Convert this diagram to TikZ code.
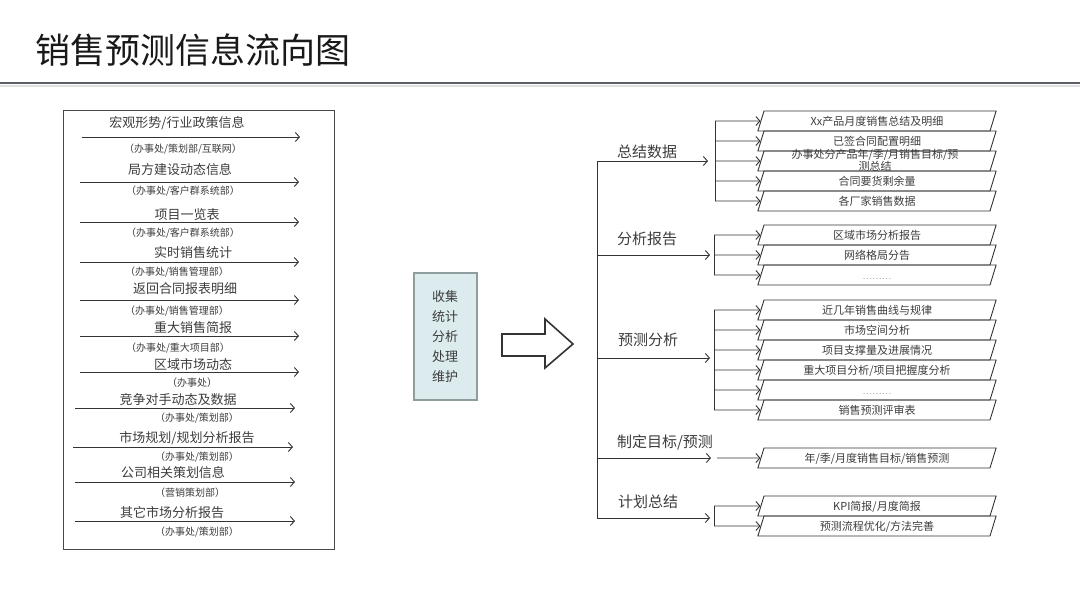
\documentclass[tikz,border=0pt]{standalone}
\usepackage{fontspec}
\setmainfont{Noto Sans CJK SC}
\usetikzlibrary{arrows.meta,shapes.geometric}
\definecolor{txtgray}{HTML}{3C3C3C}
\definecolor{linegray}{HTML}{333333}
\definecolor{rulegray}{HTML}{5A5E66}
\definecolor{hubfill}{HTML}{DCECEE}
\definecolor{hubline}{HTML}{8E9E9E}
\begin{document}
\begin{tikzpicture}[x=1pt, y=-1pt,
    lab/.style={font=\fontsize{13}{15}\selectfont, text=txtgray, inner sep=0pt},
    sublab/.style={font=\fontsize{10}{12}\selectfont, text=txtgray, inner sep=0pt},
    grp/.style={font=\fontsize{15}{18}\selectfont, text=txtgray, inner sep=0pt},
    arr/.style={draw=linegray, line width=0.9pt, -{Straight Barb[length=4pt,width=9pt]}},
    bar/.style={draw=linegray, line width=1pt},
    para/.style={trapezium, trapezium left angle=73, trapezium right angle=107,
      text width=220pt, align=center, text height=9.2pt, text depth=0.8pt,
      inner xsep=3pt, inner ysep=5pt,
      draw=linegray, line width=0.9pt,
      font=\fontsize{11}{12}\selectfont, text=txtgray},
    dots/.style={font=\fontsize{9}{9}\selectfont, text=gray!70}]
    \useasboundingbox (0,0) rectangle (1080,608);

    % Titel
    \node[anchor=west, inner sep=0pt, font=\fontsize{35}{40}\selectfont, text=black!90] (title) at (35,50) {销售预测信息流向图};
    \draw[rulegray, line width=2.5pt] (0,83) -- (1080,83);
    \draw[gray!25, line width=1.5pt] (0,86) -- (1080,86);

    % Informationsquellen
    \draw[linegray!90, line width=1pt] (63,110) rectangle (334,549);
    \node[lab] (q1) at (177,123) {宏观形势/行业政策信息};
    \coordinate (q1s) at (82,137); \coordinate (q1e) at (300,137);
    \node[sublab] (u1) at (183,149) {（办事处/策划部/互联网）};
    \node[lab] (q2) at (180,170) {局方建设动态信息};
    \coordinate (q2s) at (80,182); \coordinate (q2e) at (299,182);
    \node[sublab] (u2) at (183,191) {（办事处/客户群系统部）};
    \node[lab] (q3) at (187,215) {项目一览表};
    \coordinate (q3s) at (80,222); \coordinate (q3e) at (299,222);
    \node[sublab] (u3) at (183,233) {（办事处/客户群系统部）};
    \node[lab] (q4) at (193,253) {实时销售统计};
    \coordinate (q4s) at (80,262); \coordinate (q4e) at (299,262);
    \node[sublab] (u4) at (177,272) {（办事处/销售管理部）};
    \node[lab] (q5) at (185,289) {返回合同报表明细};
    \coordinate (q5s) at (80,300); \coordinate (q5e) at (299,300);
    \node[sublab] (u5) at (177,311) {（办事处/销售管理部）};
    \node[lab] (q6) at (193,328) {重大销售简报};
    \coordinate (q6s) at (80,336); \coordinate (q6e) at (299,336);
    \node[sublab] (u6) at (178,348) {（办事处/重大项目部）};
    \node[lab] (q7) at (193,364) {区域市场动态};
    \coordinate (q7s) at (80,372); \coordinate (q7e) at (299,372);
    \node[sublab] (u7) at (192,383) {（办事处）};
    \node[lab] (q8) at (178,400) {竞争对手动态及数据};
    \coordinate (q8s) at (75,408); \coordinate (q8e) at (295,408);
    \node[sublab] (u8) at (197,418) {（办事处/策划部）};
    \node[lab] (q9) at (187,438) {市场规划/规划分析报告};
    \coordinate (q9s) at (73,447); \coordinate (q9e) at (293,447);
    \node[sublab] (u9) at (197,457) {（办事处/策划部）};
    \node[lab] (q10) at (173,473) {公司相关策划信息};
    \coordinate (q10s) at (75,482); \coordinate (q10e) at (295,482);
    \node[sublab] (u10) at (190,493) {（营销策划部）};
    \node[lab] (q11) at (172,513) {其它市场分析报告};
    \coordinate (q11s) at (75,521); \coordinate (q11e) at (295,521);
    \node[sublab] (u11) at (197,532) {（办事处/策划部）};
    \draw[arr] (q1s) -- (q1e);
    \draw[arr] (q2s) -- (q2e);
    \draw[arr] (q3s) -- (q3e);
    \draw[arr] (q4s) -- (q4e);
    \draw[arr] (q5s) -- (q5e);
    \draw[arr] (q6s) -- (q6e);
    \draw[arr] (q7s) -- (q7e);
    \draw[arr] (q8s) -- (q8e);
    \draw[arr] (q9s) -- (q9e);
    \draw[arr] (q10s) -- (q10e);
    \draw[arr] (q11s) -- (q11e);

    % Verarbeitung
    \node[draw=hubline, fill=hubfill, line width=2pt, minimum width=63pt, minimum height=127pt,
      align=center, font=\fontsize{13}{20}\selectfont, text=txtgray] (hub) at (445,336.5)
      {收集\\统计\\分析\\处理\\维护};
    \draw[linegray, line width=1.6pt, fill=white] (502,334) -- (545,334) -- (545,319) -- (573,344)
      -- (545,368) -- (545,356) -- (502,356) -- cycle;

    % Ausgaben
    \node[grp] (zj) at (647,152) {总结数据};
    \node[grp] (fx) at (647,239) {分析报告};
    \node[grp] (yc) at (648,340) {预测分析};
    \node[grp] (zd) at (665,442) {制定目标/预测};
    \node[grp] (jh) at (648,502) {计划总结};

    \node[para] (zj1) at (877,121) {Xx产品月度销售总结及明细};
    \node[para] (zj2) at (877,141) {已签合同配置明细};
    \node[para] (zj3) at (877,161) {};
    \node[align=center, inner sep=0pt, font=\fontsize{11}{11}\selectfont, text=txtgray] (zj3t) at (875,160)
      {办事处分产品年/季/月销售目标/预\\测总结};
    \node[para] (zj4) at (877,181) {合同要货剩余量};
    \node[para] (zj5) at (877,201) {各厂家销售数据};
    \node[para] (fx1) at (877,235) {区域市场分析报告};
    \node[para] (fx2) at (877,255) {网络格局分告};
    \node[para, dots] (fx3) at (877,275) {………};
    \node[para] (yc1) at (877,310) {近几年销售曲线与规律};
    \node[para] (yc2) at (877,330) {市场空间分析};
    \node[para] (yc3) at (877,350) {项目支撑量及进展情况};
    \node[para] (yc4) at (877,370) {重大项目分析/项目把握度分析};
    \node[para, dots] (yc5) at (877,390) {………};
    \node[para] (yc6) at (877,410) {销售预测评审表};
    \node[para] (zd1) at (877,458) {年/季/月度销售目标/销售预测};
    \node[para] (jh1) at (877,506) {KPI简报/月度简报};
    \node[para] (jh2) at (877,526) {预测流程优化/方法完善};

    \coordinate (zjS) at (597,161); \coordinate (zjE) at (708,161);
    \coordinate (fxS) at (597,255); \coordinate (fxE) at (710,255);
    \coordinate (ycS) at (597,358); \coordinate (ycE) at (710,358);
    \coordinate (zdS) at (597,458); \coordinate (zdE) at (711,458);
    \coordinate (jhS) at (597,518); \coordinate (jhE) at (710,518);
    \coordinate (zjT) at (715,121); \coordinate (zjB) at (715,201);
    \coordinate (fxT) at (714,235); \coordinate (fxB) at (714,275);
    \coordinate (ycT) at (714,310); \coordinate (ycB) at (714,410);
    \coordinate (zdT) at (717,458);
    \coordinate (jhT) at (714,506); \coordinate (jhB) at (714,526);

    \draw[bar] (zjS) -- (jhS);
    \draw[arr] (zjS) -- (zjE);
    \draw[arr] (fxS) -- (fxE);
    \draw[arr] (ycS) -- (ycE);
    \draw[arr] (zdS) -- (zdE);
    \draw[arr] (jhS) -- (jhE);
    \draw[bar] (zjT) -- (zjB);
    \draw[bar] (fxT) -- (fxB);
    \draw[bar] (ycT) -- (ycB);
    \draw[bar] (jhT) -- (jhB);

    \draw[arr] (zj1 -| zjT) -- (zj1.west);
    \draw[arr] (zj2 -| zjT) -- (zj2.west);
    \draw[arr] (zj3 -| zjT) -- (zj3.west);
    \draw[arr] (zj4 -| zjT) -- (zj4.west);
    \draw[arr] (zj5 -| zjT) -- (zj5.west);
    \draw[arr] (fx1 -| fxT) -- (fx1.west);
    \draw[arr] (fx2 -| fxT) -- (fx2.west);
    \draw[arr] (fx3 -| fxT) -- (fx3.west);
    \draw[arr] (yc1 -| ycT) -- (yc1.west);
    \draw[arr] (yc2 -| ycT) -- (yc2.west);
    \draw[arr] (yc3 -| ycT) -- (yc3.west);
    \draw[arr] (yc4 -| ycT) -- (yc4.west);
    \draw[arr] (yc5 -| ycT) -- (yc5.west);
    \draw[arr] (yc6 -| ycT) -- (yc6.west);
    \draw[arr] (zdT) -- (zd1.west);
    \draw[arr] (jh1 -| jhT) -- (jh1.west);
    \draw[arr] (jh2 -| jhT) -- (jh2.west);
  \end{tikzpicture}
\end{document}
